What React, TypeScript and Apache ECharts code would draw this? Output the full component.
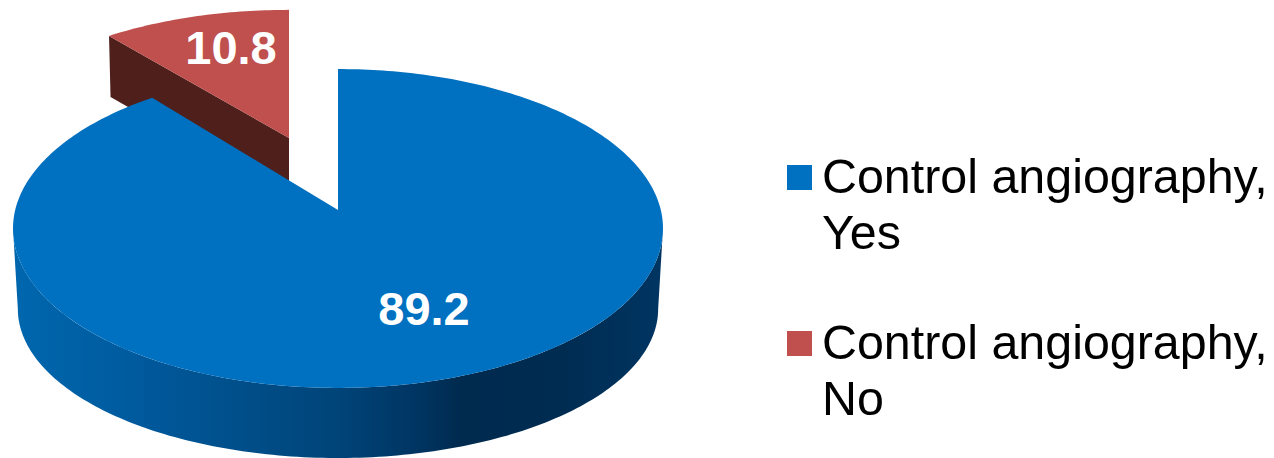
import React, { useEffect, useRef } from "react";
import * as echarts from "echarts";

const categories = ["Control angiography, Yes", "Control angiography, No"];
const shares = [89.2, 10.8];
const topColors = ["#0070c0", "#c0504d"];
const cutFaceColor = "#4f1f1c";
const FONT = '"Liberation Sans", Arial, sans-serif';

type Plane = { cx: number; cy: number; R: number; b: number; k: number };

// Tilted discs: the near edge of each disc is drawn larger than the far edge.
const mainTop: Plane = { cx: 338, cy: 210, R: 322.8, b: 157.3, k: 0.116 };
const mainBottom: Plane = { cx: 338, cy: 291.7, R: 318, b: 147, k: 0.116 };
const wedgeTop: Plane = { cx: 289, cy: 138, R: 312.6, b: 143, k: 0.116 };
const wedgeBottom: Plane = { cx: 289, cy: 199, R: 310, b: 143, k: 0.116 };

const project = (deg: number, p: Plane): number[] => {
  const t = (deg * Math.PI) / 180;
  const w = 1 + p.k * Math.cos(t);
  return [p.cx + (p.R * Math.sin(t)) / w, p.cy - (p.b * Math.cos(t)) / w];
};

const arc = (from: number, to: number, p: Plane): number[][] => {
  const steps = Math.max(2, Math.ceil(Math.abs(to - from)));
  const pts: number[][] = [];
  for (let i = 0; i <= steps; i++) pts.push(project(from + ((to - from) * i) / steps, p));
  return pts;
};

const total = shares.reduce((a, b) => a + b, 0);
const toDegrees = (v: number) => (v / total) * 360;

// Angle at which a disc reaches its widest point, where the side wall's silhouette starts.
const widest = (p: Plane) => (Math.acos(-p.k) * 180) / Math.PI;

const valueLabel = (value: number, x: number, y: number) => ({
  type: "text",
  style: {
    text: String(value),
    x,
    y,
    fill: "#ffffff",
    font: `bold 47px ${FONT}`,
    align: "center",
    verticalAlign: "middle",
  },
});

const wallFill = new echarts.graphic.LinearGradient(0, 0, 1, 0, [
  { offset: 0, color: "#0067ae" },
  { offset: 0.2, color: "#00599c" },
  { offset: 0.5, color: "#004478" },
  { offset: 0.62, color: "#003563" },
  { offset: 0.69, color: "#002a4e" },
  { offset: 0.85, color: "#002c52" },
  { offset: 1, color: "#003562" },
]);

const renderMain = (_params: any, api: any) => {
  const value = api.value(0);
  const end = toDegrees(value);
  const a = widest(mainTop);
  const wall = [...arc(a, 360 - a, mainTop), ...arc(360 - a, a, mainBottom)];
  const top = [[mainTop.cx, mainTop.cy], ...arc(0, end, mainTop)];
  return {
    type: "group",
    children: [
      { type: "polygon", shape: { points: wall }, style: { fill: wallFill } },
      { type: "polygon", shape: { points: top }, style: { fill: topColors[0] } },
      valueLabel(value, 424, 308),
    ],
  };
};

const renderWedge = (_params: any, api: any) => {
  const value = api.value(0);
  const start = 360 - toDegrees(value);
  const top = [[wedgeTop.cx, wedgeTop.cy], ...arc(start, 360, wedgeTop)];
  const face = [
    [wedgeTop.cx, wedgeTop.cy],
    project(start, wedgeTop),
    project(start, wedgeBottom),
    [wedgeBottom.cx, wedgeBottom.cy],
  ];
  return {
    type: "group",
    children: [
      { type: "polygon", shape: { points: face }, style: { fill: cutFaceColor } },
      { type: "polygon", shape: { points: top }, style: { fill: topColors[1] } },
      valueLabel(value, 231, 47),
    ],
  };
};

// Square swatch sits beside the first text line; the zero-area lines stretch its box to the two-line height.
const legendIcon = "path://M0 0L30 0M0 17H25V42H0ZM0 112L30 112";

export default function App() {
  const ref = useRef<HTMLDivElement>(null);
  useEffect(() => {
    const chart = echarts.init(ref.current!, undefined, { renderer: "svg" });
    chart.setOption({
      animation: false,
      backgroundColor: "#ffffff",
      legend: {
        orient: "vertical",
        left: 782,
        top: 143,
        itemGap: 54,
        itemWidth: 30,
        itemHeight: 112,
        icon: legendIcon,
        selectedMode: false,
        data: categories,
        formatter: (name: string) => name.replace(", ", ",\n"),
        textStyle: { fontFamily: FONT, fontSize: 48.4, lineHeight: 56, color: "#000000" },
      },
      series: [
        {
          type: "custom",
          name: categories[1],
          coordinateSystem: "none",
          silent: true,
          z: 1,
          itemStyle: { color: topColors[1] },
          data: [[shares[1]]],
          renderItem: renderWedge,
        },
        {
          type: "custom",
          name: categories[0],
          coordinateSystem: "none",
          silent: true,
          z: 2,
          itemStyle: { color: topColors[0] },
          data: [[shares[0]]],
          renderItem: renderMain,
        },
      ],
    });
    return () => chart.dispose();
  }, []);
  return <div ref={ref} style={{ position: "absolute", left: 0, top: 0, width: 1274, height: 458 }} />;
}
